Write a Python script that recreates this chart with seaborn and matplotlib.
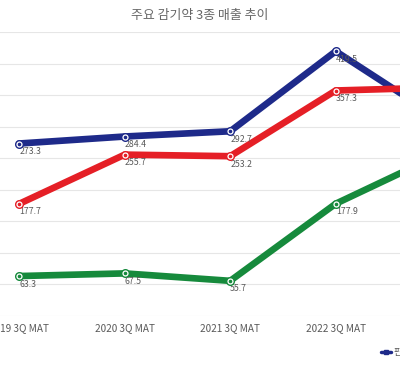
import pandas as pd
import matplotlib
matplotlib.use('Agg')
import matplotlib.pyplot as plt
import seaborn as sns

periods = ['2019 3Q MAT', '2020 3Q MAT', '2021 3Q MAT', '2022 3Q MAT', '2023 3Q MAT']
names = ['판콜에이', '판피린', '콜대원']
blue_vals = [273.3, 284.4, 292.7, 419.5, 311.0]
red_vals = [177.7, 255.7, 253.2, 357.3, 362.0]
green_vals = [63.3, 67.5, 55.7, 177.9, 257.0]
colors = ['#1e2a8a', '#e51f26', '#168a3c']

df = pd.DataFrame({
    'period': periods * 3,
    'name': [names[0]] * 5 + [names[1]] * 5 + [names[2]] * 5,
    'value': blue_vals + red_vals + green_vals,
})

sns.set_style('white')
plt.rcParams['font.family'] = ['Noto Sans CJK KR', 'DejaVu Sans']

fig = plt.figure(figsize=(4.0, 3.71), dpi=100)
# the reference is a crop of a wider chart, so the axes run past the figure edges
ax = fig.add_axes([-0.084, 55 / 371, 1.319, 284 / 371])

sns.lineplot(data=df, x='period', y='value', hue='name', palette=colors,
             linewidth=4.8, sort=False, ax=ax, legend=False)
for name, c in zip(names, colors):
    sub = df[df['name'] == name]
    ax.plot(sub['period'], sub['value'], ls='none', marker='o', ms=5.5,
            mfc='white', mec=c, mew=1.0, zorder=4)
    ax.plot(sub['period'], sub['value'], ls='none', marker='o', ms=1.6,
            mfc=c, mec=c, zorder=5)
    # last period sits outside the cropped view, its labels are not shown
    for p, v in zip(sub['period'][:4], sub['value'][:4]):
        ax.annotate(f'{v:.1f}', (p, v), xytext=(0, -2.5), textcoords='offset points',
                    ha='left', va='top', fontsize=6.3, color='#595959')

ax.set_xlim(-0.5, 4.5)
ax.set_ylim(0, 450)
ax.set_yticks(range(0, 451, 50))
ax.yaxis.grid(True, color='#e6e6e6', linewidth=0.8)
ax.set_axisbelow(True)
ax.tick_params(axis='y', left=False, labelleft=False)
ax.tick_params(axis='x', bottom=False, labelsize=7.2, colors='#595959', pad=1.5)
for s in ax.spines.values():
    s.set_visible(False)
ax.set_xlabel('')
ax.set_ylabel('')

fig.suptitle('주요 감기약 3종 매출 추이', x=0.5, y=0.975, fontsize=9.3, color='#666666')

handles = [plt.Line2D([], [], color=c, lw=2.5, marker='s', ms=2.5) for c in colors]
fig.legend(handles, names, loc='center left', bbox_to_anchor=(0.952, 0.051),
           ncol=3, frameon=False, fontsize=7, handlelength=1.1, handletextpad=0.2,
           borderaxespad=0, borderpad=0, labelcolor='#595959')

fig.savefig('out.png', dpi=100)
